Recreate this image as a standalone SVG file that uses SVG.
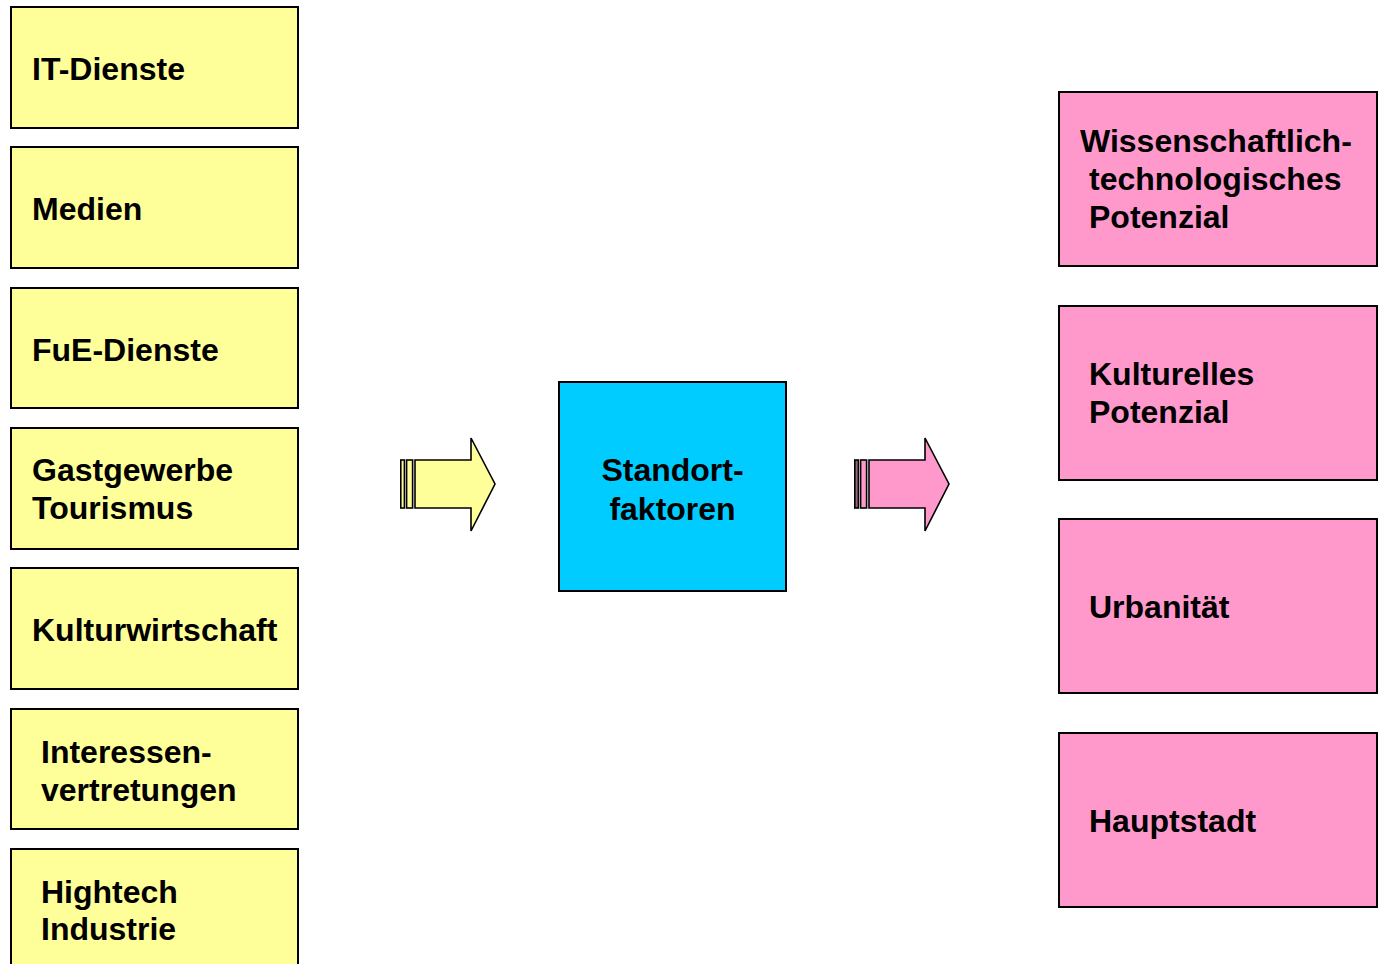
<svg xmlns="http://www.w3.org/2000/svg" width="1380" height="964" viewBox="0 0 1380 964">
<style>
.box{stroke:#000;stroke-width:2}
.y{fill:#FFFF99}
.p{fill:#FF99CC}
.c{fill:#00CCFF}
.t{font-family:"Liberation Sans",Arial,sans-serif;font-weight:bold;font-size:32px;fill:#000}
.ar{stroke:#000;stroke-width:1.6;stroke-linejoin:miter}
</style>
<rect width="1380" height="964" fill="#fff"/>
<g id="it-dienste"><rect class="box y" x="11" y="7" width="287" height="121"/><text class="t" x="32" y="79.5">IT-Dienste</text></g>
<g id="medien"><rect class="box y" x="11" y="147" width="287" height="121"/><text class="t" x="32" y="219.5">Medien</text></g>
<g id="fue-dienste"><rect class="box y" x="11" y="288" width="287" height="120"/><text class="t" x="32" y="360.5">FuE-Dienste</text></g>
<g id="gastgewerbe"><rect class="box y" x="11" y="428" width="287" height="121"/><text class="t" x="32" y="481">Gastgewerbe</text><text class="t" x="32" y="519">Tourismus</text></g>
<g id="kulturwirtschaft"><rect class="box y" x="11" y="568" width="287" height="121"/><text class="t" x="32" y="640.5">Kulturwirtschaft</text></g>
<g id="interessen"><rect class="box y" x="11" y="709" width="287" height="120"/><text class="t" x="41" y="763">Interessen-</text><text class="t" x="41" y="800.5">vertretungen</text></g>
<g id="hightech"><rect class="box y" x="11" y="849" width="287" height="130"/><text class="t" x="41" y="903">Hightech</text><text class="t" x="41" y="940">Industrie</text></g>
<g id="standortfaktoren"><rect class="box c" x="559" y="382" width="227" height="209"/><text class="t" x="672.5" y="481" text-anchor="middle">Standort-</text><text class="t" x="672.5" y="520" text-anchor="middle">faktoren</text></g>
<g id="wissenschaft"><rect class="box p" x="1059" y="92" width="318" height="174"/><text class="t" x="1080" y="152">Wissenschaftlich-</text><text class="t" x="1089" y="189.5">technologisches</text><text class="t" x="1089" y="227.5">Potenzial</text></g>
<g id="kulturelles"><rect class="box p" x="1059" y="306" width="318" height="174"/><text class="t" x="1089" y="385">Kulturelles</text><text class="t" x="1089" y="423">Potenzial</text></g>
<g id="urbanitaet"><rect class="box p" x="1059" y="519" width="318" height="174"/><text class="t" x="1089" y="618">Urbanität</text></g>
<g id="hauptstadt"><rect class="box p" x="1059" y="733" width="318" height="174"/><text class="t" x="1089" y="832">Hauptstadt</text></g>
<g id="connectors">
<g id="arrow-in">
<rect class="ar" x="400.8" y="460" width="3.6" height="48" fill="#FFFF99"/>
<rect class="ar" x="406.6" y="460" width="6" height="48" fill="#FFFF99"/>
<polygon class="ar" fill="#FFFF99" points="415,460 471,460 471,438 495,484 471,531 471,508 415,508"/>
</g>
<g id="arrow-out">
<rect class="ar" x="854.8" y="460" width="3.6" height="48" fill="#996680"/>
<rect class="ar" x="860.6" y="460" width="6" height="48" fill="#FF99CC"/>
<polygon class="ar" fill="#FF99CC" points="869,460 925,460 925,438 949,484 925,531 925,508 869,508"/>
</g>
</g>
</svg>
